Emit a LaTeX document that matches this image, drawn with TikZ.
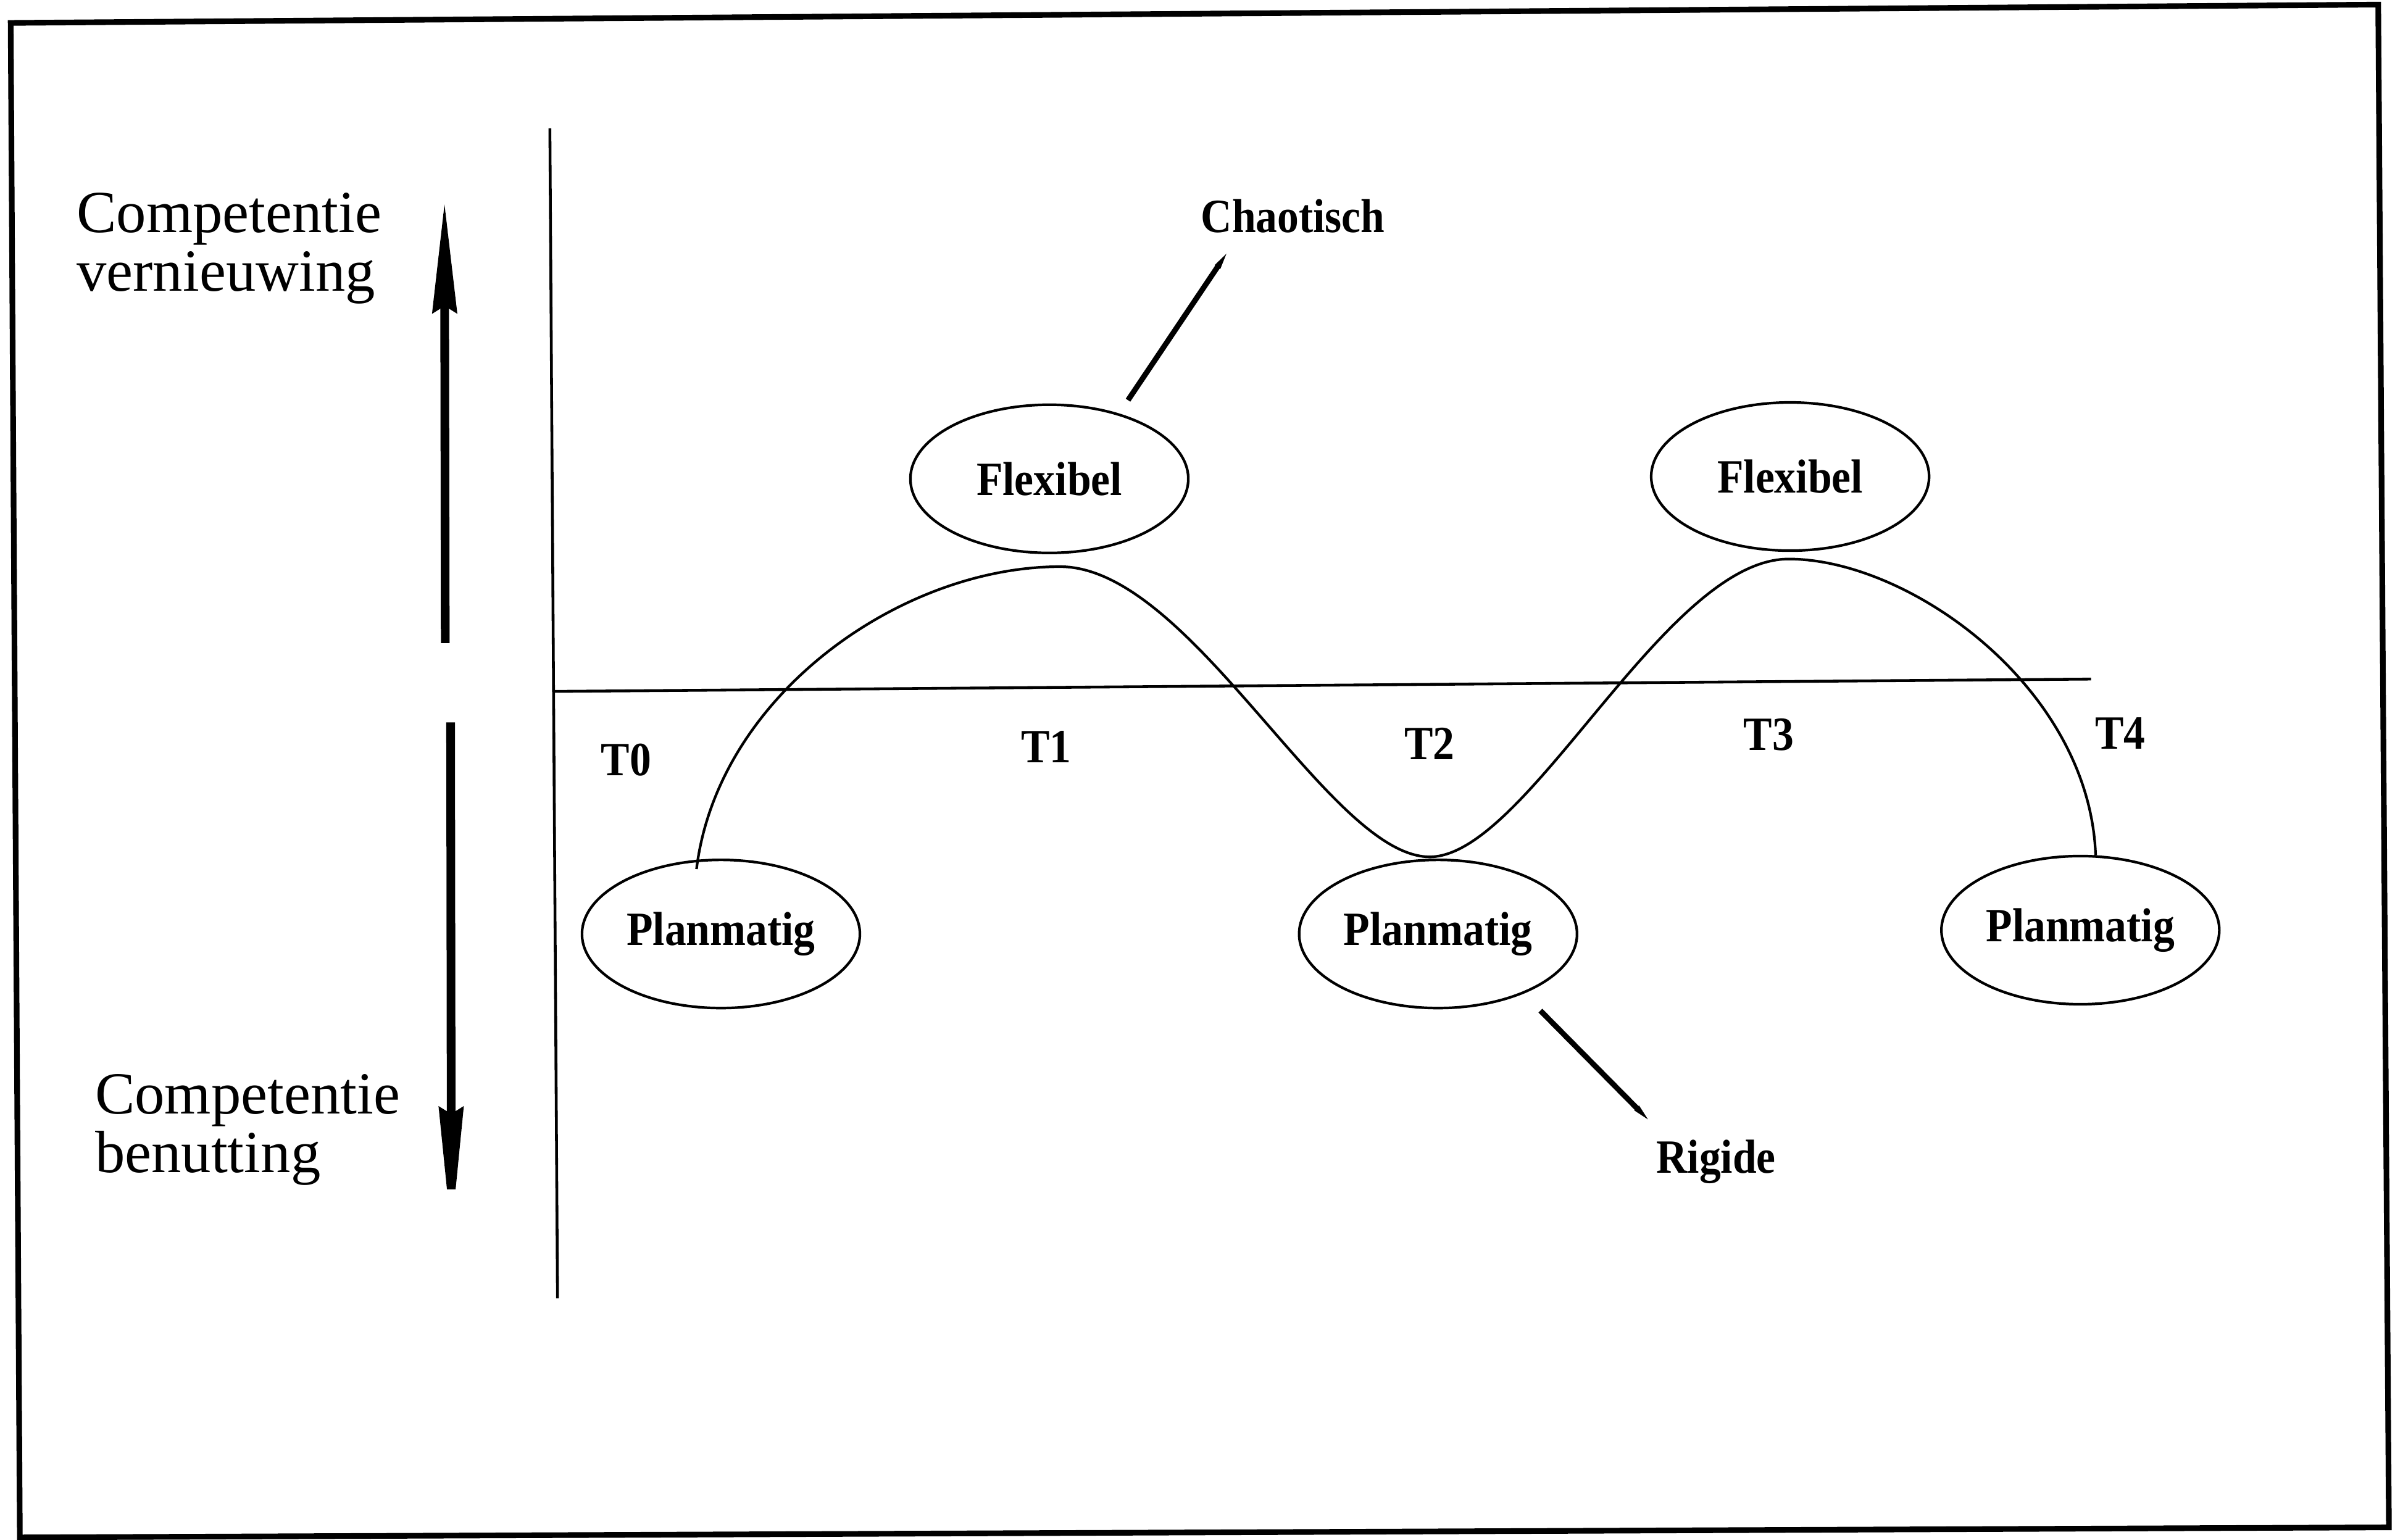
\documentclass[tikz,border=0pt]{standalone}
\usepackage{fontspec}
\setmainfont{Liberation Serif}
\newfontfamily\labfont[FakeStretch=0.9]{Liberation Serif}
\usetikzlibrary{arrows.meta,shapes.geometric}
\begin{document}
\begin{tikzpicture}[x=0.02474cm,y=-0.02474cm,
  frameline/.style={line width=2.6pt,line join=miter},
  axisline/.style={line width=1.3pt},
  curveline/.style={line width=1.2pt},
  oval/.style={draw,ellipse,line width=1.2pt,minimum width=4.50cm,minimum height=2.40cm,inner sep=0pt},
  statefont/.style={font=\labfont\bfseries\fontsize{22}{24}\selectfont},
  tlabel/.style={font=\labfont\bfseries\fontsize{22}{24}\selectfont,inner sep=0pt},
  axlabel/.style={font=\fontsize{27.5}{27}\selectfont,align=left,inner sep=0pt},
  uparrow/.style={line width=4pt,-{Stealth[length=51pt,width=11pt,inset=3pt]}},
  downarrow/.style={line width=4pt,-{Stealth[length=59pt,width=11pt,inset=3pt]}},
  smallarrow/.style={line width=2.5pt,-{Stealth[length=19pt,width=8pt,inset=9pt]}}]
\useasboundingbox (0,0) rectangle (1568,1008);
\fill[white] (0,0) rectangle (1568,1008);
% frame
\draw[frameline] (7,15) -- (1557,3) -- (1564,1000) -- (13,1006.6) -- cycle;
% axes
\coordinate (ytop) at (360,84);
\coordinate (ybot) at (365,850);
\coordinate (hl) at (362.4,452.7);
\coordinate (hr) at (1369,444.6);
\draw[axisline] (ytop) -- (ybot);
\draw[axisline] (hl) -- (hr);
% big arrows
\coordinate (upS) at (291.5,421);
\coordinate (upE) at (291,132);
\coordinate (dnS) at (295,473);
\coordinate (dnE) at (295.5,809);
\draw[uparrow] (upS) -- (upE);
\draw[downarrow] (dnS) -- (dnE);
% axis labels
\node[axlabel,anchor=north west] (vern) at (50,126) {Competentie\\vernieuwing};
\node[axlabel,anchor=north west] (benut) at (62,703) {Competentie\\benutting};
% states
\node[oval,statefont] (flex1) at (687,313.5) {Flexibel};
\node[oval,statefont] (flex2) at (1172,312) {Flexibel};
\node[oval,statefont] (plan0) at (472,611.5) {Planmatig};
\node[oval,statefont] (plan2) at (941.5,611.5) {Planmatig};
\node[oval,statefont] (plan4) at (1362,609) {Planmatig};
% time labels
\node[tlabel] (t0) at (410,497.5) {T0};
\node[tlabel] (t1) at (685,489) {T1};
\node[tlabel] (t2) at (936,487) {T2};
\node[tlabel] (t3) at (1158,481) {T3};
\node[tlabel] (t4) at (1388,480) {T4};
% curve
\draw[curveline] (456,569) .. controls (470,455) and (590,371) .. (694,371)
  .. controls (780,371) and (870,561) .. (936,561)
  .. controls (1000,561) and (1090,366) .. (1171,366)
  .. controls (1250,366) and (1368,450) .. (1372,560);
% annotations
\node[statefont,anchor=base,inner sep=0pt] (chaos) at (846.5,152) {Chaotisch};
\node[statefont,anchor=base,inner sep=0pt] (rigid) at (1123.5,768) {Rigide};
\coordinate (chS) at (738.5,262);
\coordinate (chE) at (803,166);
\coordinate (rgS) at (1008.5,661.7);
\coordinate (rgE) at (1079,733);
\draw[smallarrow] (chS) -- (chE);
\draw[smallarrow] (rgS) -- (rgE);
\end{tikzpicture}
\end{document}
